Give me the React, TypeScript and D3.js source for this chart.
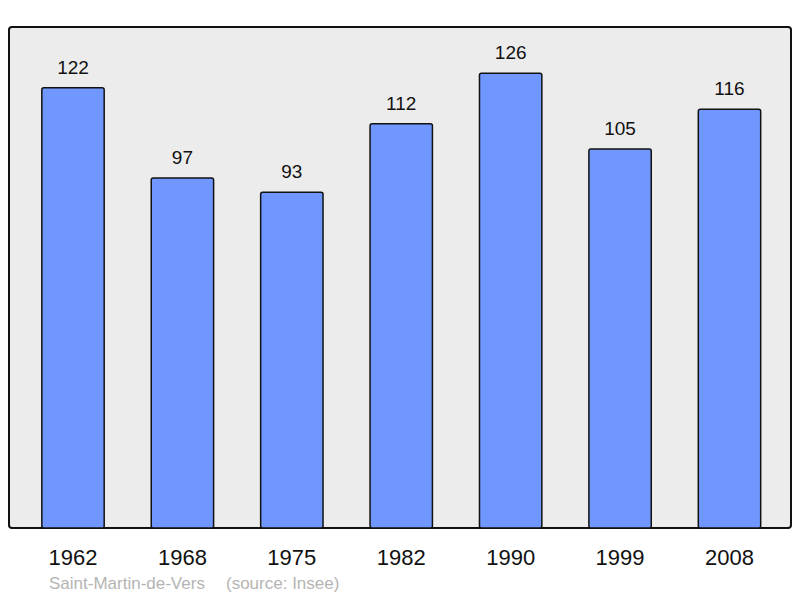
import React from 'react';
import * as d3 from 'd3';

const years = ['1962', '1968', '1975', '1982', '1990', '1999', '2008'];
const population = [122, 97, 93, 112, 126, 105, 116];
const caption = 'Saint-Martin-de-Vers';
const source = '(source: Insee)';

const WIDTH = 800;
const HEIGHT = 598;
const panel = { left: 9, top: 27, right: 791, bottom: 528 };

export default function App() {
  const x = d3.scaleBand<string>()
    .domain(years)
    .range([9, 793.5])
    .paddingInner(0.43)
    .paddingOuter(0.3);

  const y = d3.scaleLinear()
    .domain([0, 138.8])
    .range([panel.bottom, panel.top]);

  const font = 'Liberation Sans, Arial, sans-serif';

  return (
    <svg
      width={WIDTH}
      height={HEIGHT}
      style={{ position: 'absolute', left: 0, top: 0 }}
      fontFamily={font}
    >
      <rect x={0} y={0} width={WIDTH} height={HEIGHT} fill="#fff" />
      <rect
        x={panel.left}
        y={panel.top}
        width={panel.right - panel.left}
        height={panel.bottom - panel.top}
        rx={3}
        fill="#ececec"
        stroke="#111"
        strokeWidth={2}
      />
      {years.map((yr, i) => {
        const v = population[i];
        const bx = x(yr)!;
        return (
          <g key={yr}>
            <rect
              x={bx}
              y={y(v)}
              width={x.bandwidth()}
              height={panel.bottom - y(v)}
              rx={2}
              fill="#7097ff"
              stroke="#111"
              strokeWidth={1.5}
            />
            <text
              x={bx + x.bandwidth() / 2}
              y={y(v) - 14}
              textAnchor="middle"
              fontSize={19}
              fill="#111"
            >
              {v}
            </text>
            <text
              x={bx + x.bandwidth() / 2}
              y={565}
              textAnchor="middle"
              fontSize={22}
              fill="#111"
            >
              {yr}
            </text>
          </g>
        );
      })}
      <text x={49} y={589} fontSize={17} fill="#b4b4b4">{caption}</text>
      <text x={226} y={589} fontSize={17} fill="#b4b4b4">{source}</text>
    </svg>
  );
}
